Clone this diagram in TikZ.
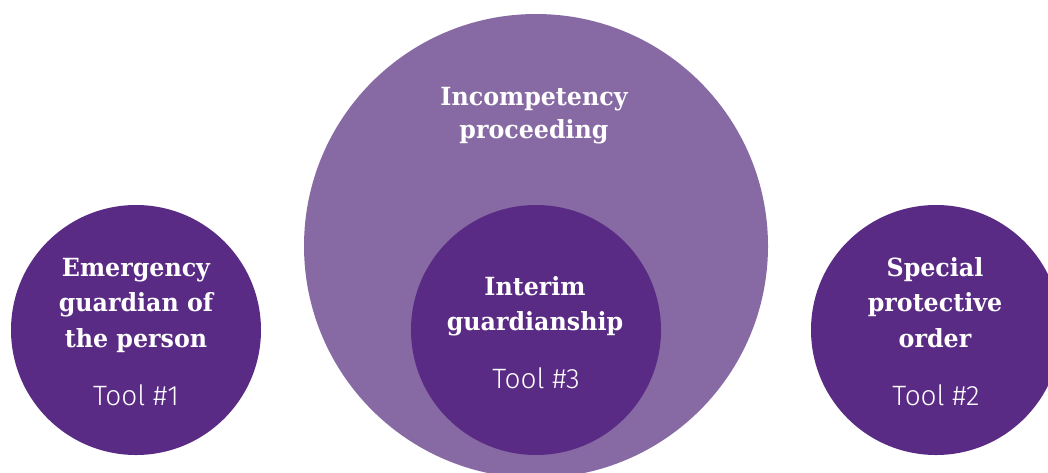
\documentclass[tikz,border=0pt]{standalone}
\usepackage{fontspec}
\setmainfont{DejaVu Serif}
\newfontfamily\titlefont{DejaVu Serif}[FakeStretch=0.95]
\newfontfamily\toolfont{Fira Sans Light}
\definecolor{darkpurple}{HTML}{5A2B84}
\definecolor{lightpurple}{HTML}{876AA4}
\tikzset{
  disc/.style={circle, inner sep=0pt, minimum size=250pt, fill=darkpurple, draw=none},
  bigdisc/.style={circle, inner sep=0pt, minimum size=464pt, fill=lightpurple, draw=none},
  title/.style={anchor=north, inner sep=0pt, align=center, text=white,
    font=\titlefont\bfseries\fontsize{25}{35.5}\selectfont},
  toollabel/.style={anchor=base, inner sep=0pt, text=white,
    font=\toolfont\fontsize{28}{30}\selectfont}
}
\begin{document}
\begin{tikzpicture}[x=1pt,y=-1pt]
\useasboundingbox (0,0) rectangle (1048,472);
\clip (0,0) rectangle (1048,472);
\fill[white] (0,0) rectangle (1048,472);
% circles
\node[bigdisc] (big) at (536,246) {};
\node[disc] (inner) at (536,330) {};
\node[disc] (left) at (136,330) {};
\node[disc] (right) at (936,330) {};
% titles
\node[title] (bigtitle) at (534,105-24.85) {\strut Incompetency\\[-2.5pt]proceeding};
\node[title] (innertitle) at (535,295-24.85) {\strut Interim\\guardianship};
\node[title] (lefttitle) at (136,276-24.85) {\strut Emergency\\guardian of\\the person};
\node[title] (righttitle) at (935,276-24.85) {\strut Special\\protective\\order};
% tool labels
\node[toollabel] (tool1) at (136,405) {Tool \#1};
\node[toollabel] (tool2) at (936,405) {Tool \#2};
\node[toollabel] (tool3) at (536,388) {Tool \#3};
\end{tikzpicture}
\end{document}
